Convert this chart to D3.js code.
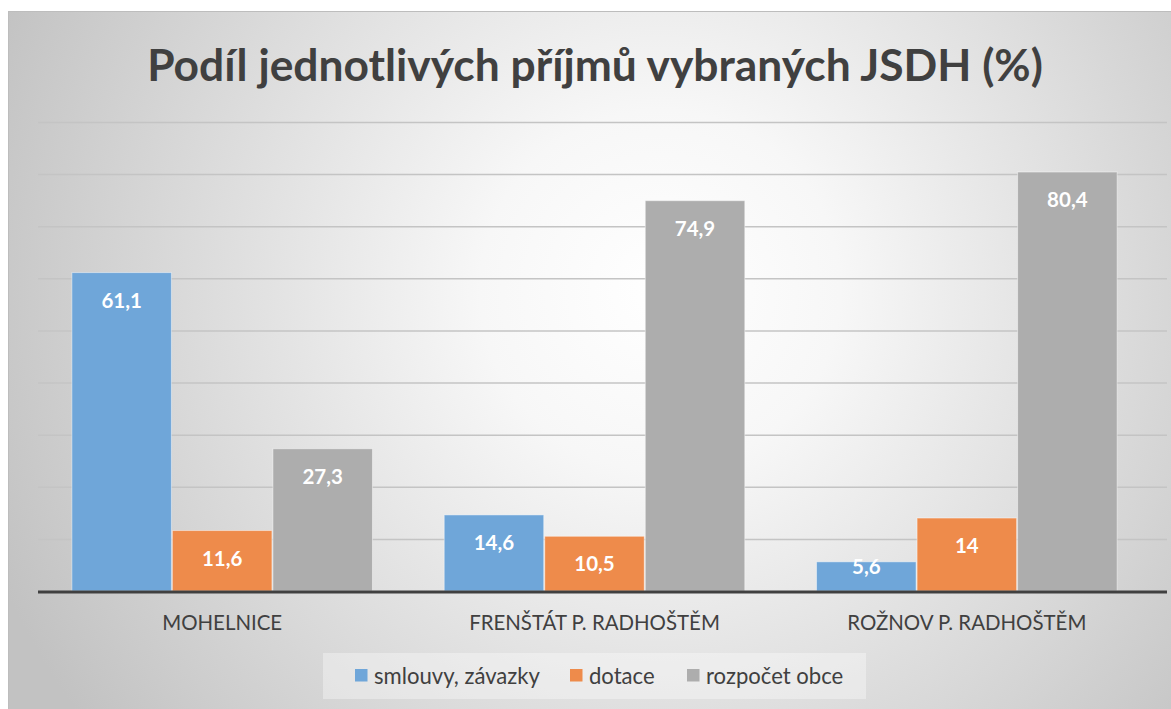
<!DOCTYPE html>
<html><head><meta charset="utf-8">
<script src="https://cdn.jsdelivr.net/npm/d3@7"></script>
<style>html,body{margin:0;padding:0;background:#fff;}svg{display:block;}</style>
</head><body>
<svg id="c" width="1171" height="709"></svg>
<script>
const categories = ["MOHELNICE", "FRENŠTÁT P. RADHOŠTĚM", "ROŽNOV P. RADHOŠTĚM"];
const seriesNames = ["smlouvy, závazky", "dotace", "rozpočet obce"];
const smlouvy = [61.1, 14.6, 5.6];
const dotace = [11.6, 10.5, 14];
const rozpocet = [27.3, 74.9, 80.4];
const yTicks = [0, 10, 20, 30, 40, 50, 60, 70, 80, 90];
const colors = ["#6FA6D9", "#EE8B4B", "#ADADAD"];
const title = "Podíl jednotlivých příjmů vybraných JSDH (%)";

const seriesVals = [smlouvy, dotace, rozpocet];
const svg = d3.select("#c");
const font = "Lato, 'Open Sans', sans-serif";

function fitWidth(sel, target) {
  const fs = +sel.attr("font-size");
  const w = sel.node().getComputedTextLength();
  sel.attr("font-size", fs * target / w);
  return fs * target / w;
}

// background
const defs = svg.append("defs");
const rg = defs.append("radialGradient").attr("id","bg").attr("gradientUnits","userSpaceOnUse")
  .attr("cx",660).attr("cy",290).attr("r",720);
rg.append("stop").attr("offset","0%").attr("stop-color","#ffffff");
rg.append("stop").attr("offset","25%").attr("stop-color","#f7f7f7");
rg.append("stop").attr("offset","100%").attr("stop-color","#c2c2c2");
svg.append("rect").attr("x",8.5).attr("y",11.5).attr("width",1170).attr("height",710)
  .attr("fill","url(#bg)").attr("stroke","#bdbdbd").attr("stroke-width",1);

const x0 = d3.scaleBand().domain(categories).range([36, 1153]).paddingInner(0.19).paddingOuter(0.095);
const x1 = d3.scaleBand().domain(d3.range(3)).range([0, x0.bandwidth()]).padding(0);
const y = d3.scaleLinear().domain([0, 90]).range([591, 122]);

// gridlines
const grid = svg.append("g").attr("transform","translate(38,0)")
  .call(d3.axisLeft(y).tickValues(yTicks.slice(1)).tickSize(-(1167-38)).tickFormat(""));
grid.select(".domain").remove();
grid.selectAll("line").attr("stroke","#c4c4c4").attr("stroke-width",1.5);

// bars
const groups = svg.append("g").selectAll("g").data(categories).join("g")
  .attr("transform", d => `translate(${x0(d)},0)`);
groups.each(function(cat, ci) {
  const g = d3.select(this);
  seriesVals.forEach((vals, si) => {
    const v = vals[ci];
    g.append("rect").attr("x", x1(si)+0.5).attr("y", y(v)).attr("width", x1.bandwidth()-1)
      .attr("height", y(0)-y(v)).attr("fill", colors[si])
      .attr("stroke","rgba(255,255,255,0.45)").attr("stroke-width",1);
    const cy = Math.min(y(v)+28, y(0)-24);
    g.append("text").attr("x", x1(si)+x1.bandwidth()/2).attr("y", cy).attr("dy","0.35em")
      .attr("text-anchor","middle").attr("fill","#fff").attr("font-weight","bold")
      .attr("font-family", font).attr("font-size", 20.5).text(String(v).replace(".", ","));
  });
});

// category axis
const xAxis = svg.append("g").attr("transform",`translate(0,${y(0)})`)
  .call(d3.axisBottom(x0).tickSize(0).tickPadding(24));
xAxis.select(".domain").remove();
const ct = xAxis.selectAll("text").attr("font-family",font).attr("font-size",18).attr("fill","#404040");
const cfs = fitWidth(d3.select(ct.nodes()[0]), 120);
ct.attr("font-size", cfs);
svg.append("line").attr("x1",38).attr("x2",1167).attr("y1",y(0)+1).attr("y2",y(0)+1)
  .attr("stroke","#404040").attr("stroke-width",3);

// title
const t = svg.append("text").attr("x",595).attr("y",81).attr("text-anchor","middle")
  .attr("font-family",font).attr("font-weight","bold").attr("font-size",44).attr("fill","#404040").text(title);
fitWidth(t, 896);

// legend
const leg = svg.append("g");
leg.append("rect").attr("x",323).attr("y",653).attr("width",543).attr("height",46).attr("fill","rgba(255,255,255,0.35)");
const legX = [355, 570, 687];
const legTexts = [];
seriesNames.forEach((n, i) => {
  leg.append("rect").attr("x",legX[i]).attr("y",669).attr("width",12.5).attr("height",12.5).attr("fill",colors[i]);
  legTexts.push(leg.append("text").attr("x",legX[i]+19).attr("y",676).attr("dy","0.35em")
    .attr("font-family",font).attr("font-size",19).attr("fill","#404040").text(n));
});
const lfs = fitWidth(legTexts[0], 166);
legTexts.forEach(s => s.attr("font-size", lfs));
</script>
</body></html>
